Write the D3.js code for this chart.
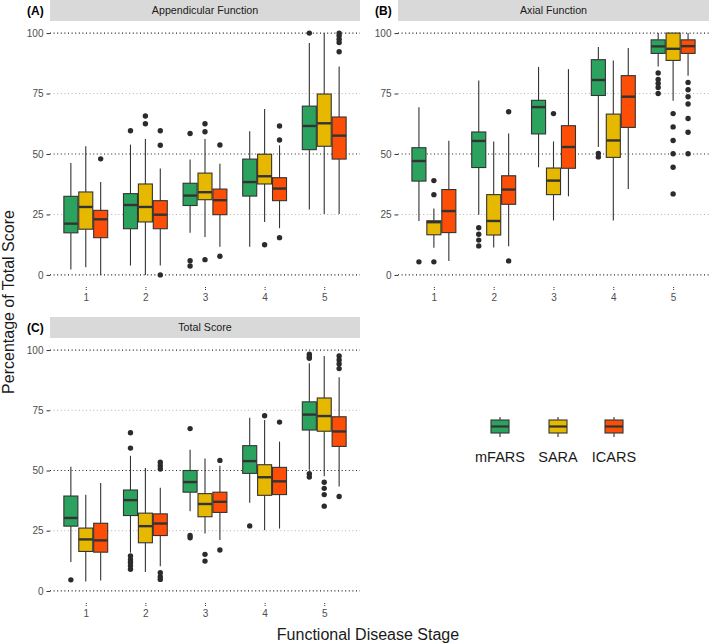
<!DOCTYPE html>
<html><head><meta charset="utf-8">
<script src="https://cdn.jsdelivr.net/npm/d3@7"></script>
<style>body{margin:0;background:#fff}svg{display:block;font-family:"Liberation Sans",Arial,sans-serif}</style>
</head><body><svg id="c" width="709" height="644"></svg>
<script>
const stages = [1, 2, 3, 4, 5];
const seriesNames = ["mFARS", "SARA", "ICARS"];
const seriesColors = ["#2ca25f", "#e7b800", "#fc4e07"];
const yTicks = [0, 25, 50, 75, 100];

// per stage: [whiskerLow, q1, median, q3, whiskerHigh]
const appendicular_mFARS = [[2.2,17.4,21.2,32.5,46.3],[3.9,19.1,28.9,33.6,53.9],[17.4,28.7,32.8,37.9,47.7],[11.6,32.6,38.4,47.9,59.4],[27,51.8,61.6,69.8,95.9]];
const appendicular_SARA  = [[3.2,18.9,28.1,34.3,53.2],[0,21.9,28.1,37.6,56.2],[15.7,31.1,34.2,42.1,56.2],[21.9,37.6,40.8,49.9,68.6],[25.2,53.2,62.7,74.8,100]];
const appendicular_ICARS = [[0,15.4,23,26.7,38.4],[3.9,19.1,24.9,30.7,44],[11.6,24.9,30.9,35.5,46],[19.3,30.7,35.7,40.2,53.6],[25.2,47.9,57.6,65.3,86.2]];
// outliers: [stage, value]
const appendicular_mFARS_out = [[2,59.6],[3,58.5],[3,5.9],[3,3.7],[5,100]];
const appendicular_SARA_out  = [[2,65.7],[2,62.5],[3,62.5],[3,59.2],[3,6.3],[4,12.5]];
const appendicular_ICARS_out = [[1,48],[2,59.6],[2,53.6],[2,0],[3,53.7],[3,7.7],[4,61.6],[4,55.8],[4,15.4],[5,100],[5,98.9],[5,97.5],[5,96.1],[5,92.3]];

const axial_mFARS = [[22.3,38.8,47.1,52.6,69.3],[24.9,44.4,55.4,59.1,80.4],[44.5,58.3,69.4,72.2,86],[52.9,74.2,80.6,89,94.2],[86.2,91.6,94.5,97.2,100]];
const axial_SARA  = [[11.2,16.6,21.8,22.4,27.5],[11.3,16.5,22.3,33.2,55.2],[22.5,33.2,39,44.2,55.2],[22.5,48.6,55.6,66.5,88.7],[72,88.7,93.5,100,100]];
const axial_ICARS = [[5.8,17.5,26.4,35.3,55.5],[11.8,29.2,35.3,41,58.5],[32.5,44.1,52.9,61.7,85.1],[35.5,61,73.7,82.4,93.8],[82.4,91.6,94.6,97.2,100]];
const axial_mFARS_out = [[1,5.4],[2,19.5],[2,16.8],[2,14.4],[2,12],[4,50.2],[4,48.8],[5,83.5],[5,80.8],[5,79.2],[5,77.5],[5,75]];
const axial_SARA_out  = [[1,39],[1,33.2],[1,5.4],[3,66.7],[5,66.7],[5,61.2],[5,55.6],[5,50.1],[5,44.5],[5,33.5]];
const axial_ICARS_out = [[2,67.5],[2,5.8],[5,79.6],[5,76.6],[5,73.7],[5,70.7],[5,64.7],[5,59],[5,50.1]];

const total_mFARS = [[12,26.9,30.3,39.4,51.6],[15.9,31.3,37.7,41.9,56.1],[33.1,41,45.2,50,58.6],[36.6,48.8,53.9,60.3,71.9],[50.3,66.8,73.2,78.5,94.5]];
const total_SARA  = [[3.9,16.4,21.4,26.1,39.9],[7.9,20,26.9,32.3,51],[23.9,30.8,36.1,40.4,55],[25.2,39.7,47.2,52.4,71],[47.6,66.3,72.6,80.1,97.5]];
const total_ICARS = [[4.3,16.1,21,28.1,44.8],[10.3,23,28,32,42.8],[21.1,32.6,37,41,52],[25.9,40,45.5,51.3,62],[43.4,60,66.2,72.3,88.7]];
const total_mFARS_out = [[1,4.6],[2,65.7],[2,59.3],[2,14.5],[2,13],[2,11.8],[2,10.5],[2,9],[3,67.4],[3,23],[3,22.1],[4,27],[5,98.3],[5,97.2],[5,96.6],[5,48.7],[5,47.3]];
const total_SARA_out  = [[3,15.2],[3,12.4],[4,72.7],[5,45.1],[5,42.6],[5,40],[5,35.2]];
const total_ICARS_out = [[2,53.4],[2,52],[2,50.6],[2,7.6],[2,5.9],[2,4.8],[3,54.2],[3,17],[4,70.1],[5,97.5],[5,95.9],[5,94.2],[5,92.3],[5,39.2]];

const panels = [
  {tag:"(A)", title:"Appendicular Function", x0:50, x1:360, stripTop:0, y0:21, y1:287,
   stats:[appendicular_mFARS, appendicular_SARA, appendicular_ICARS],
   outs:[appendicular_mFARS_out, appendicular_SARA_out, appendicular_ICARS_out]},
  {tag:"(B)", title:"Axial Function", x0:398, x1:709, stripTop:0, y0:21, y1:287,
   stats:[axial_mFARS, axial_SARA, axial_ICARS],
   outs:[axial_mFARS_out, axial_SARA_out, axial_ICARS_out]},
  {tag:"(C)", title:"Total Score", x0:50, x1:360, stripTop:317, y0:338, y1:603,
   stats:[total_mFARS, total_SARA, total_ICARS],
   outs:[total_mFARS_out, total_SARA_out, total_ICARS_out]}
];

const svg = d3.select("#c");
const dark = "#333333";
const offs = [-0.25, 0, 0.25];
const bw = 0.235;

panels.forEach(p => {
  const x = d3.scaleLinear().domain([0.4, 5.6]).range([p.x0, p.x1]);
  const y = d3.scaleLinear().domain([-5, 105]).range([p.y1, p.y0]);
  const g = svg.append("g");
  // strip
  g.append("rect").attr("x", p.x0).attr("y", p.stripTop).attr("width", p.x1 - p.x0)
    .attr("height", p.y0 - p.stripTop).attr("fill", "#d9d9d9");
  g.append("text").attr("x", (p.x0 + p.x1) / 2).attr("y", (p.stripTop + p.y0) / 2)
    .attr("dy", "0.35em").attr("text-anchor", "middle").attr("font-size", 10.7)
    .attr("fill", "#1a1a1a").text(p.title);
  g.append("text").attr("x", p.x0 - 23).attr("y", (p.stripTop + p.y0) / 2 + 0.5)
    .attr("dy", "0.35em").attr("font-size", 12).attr("font-weight", "bold")
    .attr("fill", "#000").text(p.tag);
  // grid
  g.selectAll(".grid").data(yTicks).join("line")
    .attr("x1", p.x0).attr("x2", p.x1)
    .attr("y1", d => y(d)).attr("y2", d => y(d))
    .attr("stroke", d => d % 50 === 0 ? "#222" : "#b0b0b0")
    .attr("stroke-width", d => d % 50 === 0 ? 1.2 : 1)
    .attr("stroke-dasharray", "1,2.6");
  // axes
  const ya = g.append("g").attr("transform", `translate(${p.x0},0)`)
    .call(d3.axisLeft(y).tickValues(yTicks).tickSize(3.5).tickPadding(3));
  ya.select(".domain").remove();
  ya.selectAll("line").attr("stroke", dark);
  ya.selectAll("text").attr("font-size", 10).attr("fill", "#4d4d4d").attr("font-family", "Liberation Sans, Arial, sans-serif");
  const xa = g.append("g").attr("transform", `translate(0,${p.y1})`)
    .call(d3.axisBottom(x).tickValues(stages).tickSize(4).tickPadding(3).tickFormat(d3.format("d")));
  xa.select(".domain").remove();
  xa.selectAll("line").attr("stroke", dark).attr("stroke-dasharray", "1,1");
  xa.selectAll("text").attr("font-size", 10).attr("fill", "#4d4d4d").attr("font-family", "Liberation Sans, Arial, sans-serif");

  // boxes
  seriesNames.forEach((s, si) => {
    const sg = g.append("g");
    const data = p.stats[si].map((d, i) => ({st: stages[i], lo: d[0], q1: d[1], md: d[2], q3: d[3], hi: d[4]}));
    const cx = d => x(d.st + offs[si]);
    sg.selectAll(".w").data(data).join("line")
      .attr("x1", cx).attr("x2", cx).attr("y1", d => y(d.hi)).attr("y2", d => y(d.q3))
      .attr("stroke", dark).attr("stroke-width", 1.1);
    sg.selectAll(".w2").data(data).join("line")
      .attr("x1", cx).attr("x2", cx).attr("y1", d => y(d.q1)).attr("y2", d => y(d.lo))
      .attr("stroke", dark).attr("stroke-width", 1.1);
    sg.selectAll(".b").data(data).join("rect")
      .attr("x", d => x(d.st + offs[si] - bw / 2)).attr("width", d => x(d.st + offs[si] + bw / 2) - x(d.st + offs[si] - bw / 2))
      .attr("y", d => y(d.q3)).attr("height", d => y(d.q1) - y(d.q3))
      .attr("fill", seriesColors[si]).attr("stroke", dark).attr("stroke-width", 1.1);
    sg.selectAll(".m").data(data).join("line")
      .attr("x1", d => x(d.st + offs[si] - bw / 2)).attr("x2", d => x(d.st + offs[si] + bw / 2))
      .attr("y1", d => y(d.md)).attr("y2", d => y(d.md))
      .attr("stroke", dark).attr("stroke-width", 2.4);
    sg.selectAll(".o").data(p.outs[si]).join("circle")
      .attr("cx", d => x(d[0] + offs[si])).attr("cy", d => y(d[1])).attr("r", 2.7)
      .attr("fill", "#2b2b2b");
  });
});

// axis titles
svg.append("text").attr("x", 368).attr("y", 640).attr("text-anchor", "middle")
  .attr("font-size", 16).attr("fill", "#1a1a1a").text("Functional Disease Stage");
svg.append("text").attr("transform", "translate(14,302) rotate(-90)").attr("text-anchor", "middle")
  .attr("font-size", 16).attr("fill", "#1a1a1a").text("Percentage of Total Score");

// legend
const legX = [500, 558, 614];
const lg = svg.append("g");
seriesNames.forEach((s, i) => {
  const cx = legX[i];
  lg.append("line").attr("x1", cx).attr("x2", cx).attr("y1", 417).attr("y2", 437)
    .attr("stroke", dark).attr("stroke-width", 1.1);
  lg.append("rect").attr("x", cx - 9).attr("y", 420).attr("width", 18).attr("height", 13)
    .attr("fill", seriesColors[i]).attr("stroke", dark).attr("stroke-width", 1.1);
  lg.append("line").attr("x1", cx - 9).attr("x2", cx + 9).attr("y1", 426.5).attr("y2", 426.5)
    .attr("stroke", dark).attr("stroke-width", 2.2);
  lg.append("text").attr("x", cx).attr("y", 462).attr("text-anchor", "middle")
    .attr("font-size", 14.5).attr("fill", "#1a1a1a").text(s);
});
</script></body></html>
